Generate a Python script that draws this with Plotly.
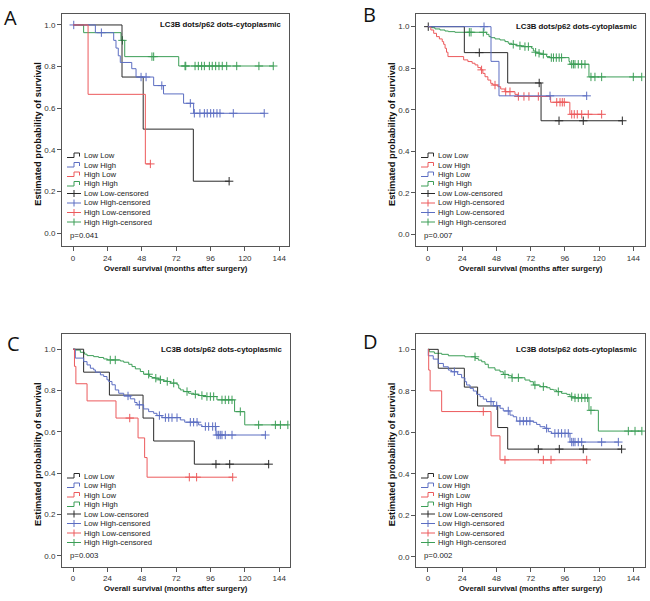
import bisect
import plotly.graph_objects as go

W, H = 650, 601

GROUPS = ["Low Low", "Low High", "High Low", "High High"]
X_TICKS = [0, 24, 48, 72, 96, 120, 144]
Y_TICKS = [0.0, 0.2, 0.4, 0.6, 0.8, 1.0]
PANEL_LABELS = ["A", "B", "C", "D"]
P_VALUES = ["p=0.041", "p=0.007", "p=0.003", "p=0.002"]
PLOT_TITLE = "LC3B dots/p62 dots-cytoplasmic"
X_TITLE = "Overall survival (months after surgery)"
Y_TITLE = "Estimated probability of survival"

# ---------------- Panel A ----------------
A_LL_t = [34.2, 49.0, 84.0]
A_LL_s = [0.75, 0.50, 0.25]
A_LL_c = [109.0]
A_LH_t = [15.6, 28.4, 30.0, 31.6, 33.0, 41.0, 44.0, 56.3, 63.2, 77.2, 84.2]
A_LH_s = [0.963, 0.926, 0.889, 0.852, 0.820, 0.790, 0.750, 0.709, 0.669, 0.624, 0.576]
A_LH_c = [0.5, 19.8, 47.5, 51.0, 62.0, 81.9, 84.7, 88.6, 91.7, 93.7, 96.1, 98.2, 100.5, 102.6, 111.9, 133.5]
A_HL_t = [10.5, 50.5]
A_HL_s = [0.667, 0.333]
A_HL_c = [54.0]
A_HH_t = [7.4, 33.5, 36.1, 73.8]
A_HH_s = [0.963, 0.926, 0.848, 0.803]
A_HH_c = [34.5, 55.1, 56.3, 78.2, 78.7, 85.2, 87.5, 89.8, 91.7, 95.2, 97.2, 99.6, 101.9,
          104.2, 107.3, 114.3, 129.8, 139.8]

# ---------------- Panel B ----------------
B_LL_t = [25.5, 55.9, 79.3]
B_LL_s = [0.875, 0.729, 0.547]
B_LL_c = [0.2, 36.0, 78.0, 91.9, 108.9, 136.3]
B_LH_t = [2.0, 4.0, 6.0, 8.0, 10.0, 11.0, 12.0, 13.0, 14.0, 25.0, 28.0, 31.0, 33.0, 35.0,
          37.0, 38.5, 40.0, 42.0, 44.0, 45.5, 49.0, 51.0, 54.0, 61.0, 63.0, 86.0, 99.5]
B_LH_s = [0.984, 0.968, 0.952, 0.941, 0.928, 0.915, 0.896, 0.877, 0.856, 0.840, 0.832,
          0.824, 0.816, 0.803, 0.792, 0.775, 0.759, 0.743, 0.727, 0.719, 0.711, 0.700,
          0.687, 0.674, 0.664, 0.636, 0.578]
B_LH_c = [37.6, 47.0, 54.5, 57.5, 63.4, 67.3, 70.8, 77.4, 90.3, 92.6, 94.2, 95.6, 100.8,
          102.6, 104.7, 107.8, 112.4, 121.8]
B_HL_t = [44.2, 49.8]
B_HL_s = [0.833, 0.667]
B_HL_c = [39.3, 85.6, 111.3]
B_HH_t = [2.6, 4.9, 8.4, 11.9, 14.3, 18.9, 41.1, 42.8, 44.2, 47.0, 50.5, 54.0, 56.3, 58.7,
          61.0, 62.2, 65.7, 72.7, 73.9, 75.5, 76.9, 79.3, 83.2, 85.6, 98.9, 99.6, 112.9]
B_HH_s = [0.995, 0.989, 0.984, 0.979, 0.976, 0.973, 0.963, 0.952, 0.947, 0.941, 0.936,
          0.928, 0.920, 0.915, 0.912, 0.908, 0.904, 0.896, 0.883, 0.877, 0.872, 0.867,
          0.856, 0.851, 0.832, 0.819, 0.758]
B_HH_c = [29.0, 30.2, 38.8, 59.8, 64.5, 68.0, 70.4, 75.5, 77.9, 80.9, 86.5, 88.0, 90.0,
          92.0, 93.7, 100.8, 102.0, 103.1, 105.4, 107.8, 110.1, 114.3, 117.1, 121.8, 144.0,
          149.9]

# ---------------- Panel C ----------------
C_LL_t = [7.4, 25.4, 48.9, 56.3, 84.7]
C_LL_s = [0.889, 0.778, 0.667, 0.556, 0.444]
C_LL_c = [99.8, 109.4, 136.6]
C_LH_t = [1.6, 7.4, 9.8, 12.1, 14.4, 15.6, 19.1, 21.4, 23.7, 24.9, 27.2, 29.5, 31.9, 35.4,
          40.0, 43.1, 44.7, 49.3, 52.8, 56.3, 58.6, 62.1, 74.9, 78.0, 87.7, 90.0, 99.8]
C_LH_s = [0.957, 0.940, 0.924, 0.908, 0.900, 0.889, 0.876, 0.868, 0.852, 0.844, 0.828,
          0.803, 0.787, 0.774, 0.760, 0.742, 0.731, 0.711, 0.698, 0.690, 0.679, 0.669,
          0.658, 0.647, 0.634, 0.626, 0.585]
C_LH_c = [38.4, 46.3, 60.3, 64.5, 66.8, 69.1, 72.6, 81.9, 84.2, 86.6, 92.4, 94.7, 97.5,
          99.4, 100.5, 101.7, 102.8, 104.0, 106.3, 111.0, 134.3]
C_HL_t = [1.0, 2.0, 9.8, 30.0, 45.4, 50.0, 51.7]
C_HL_s = [0.917, 0.833, 0.750, 0.667, 0.571, 0.476, 0.381]
C_HL_c = [39.6, 81.2, 86.3, 111.5]
C_HH_t = [1.6, 5.1, 8.1, 9.8, 14.4, 17.9, 21.4, 24.0, 33.0, 35.4, 38.9, 41.2, 43.5, 47.0,
          49.3, 53.5, 55.1, 57.5, 59.8, 63.3, 65.6, 68.0, 72.6, 73.8, 74.9, 77.3, 80.7,
          84.2, 87.7, 91.2, 100.5, 112.8, 119.9]
C_HH_s = [0.996, 0.985, 0.976, 0.969, 0.964, 0.960, 0.953, 0.948, 0.943, 0.937, 0.927,
          0.916, 0.905, 0.892, 0.879, 0.868, 0.863, 0.860, 0.852, 0.847, 0.844, 0.836,
          0.828, 0.811, 0.803, 0.795, 0.787, 0.782, 0.776, 0.771, 0.755, 0.698, 0.634]
C_HH_c = [26.0, 29.5, 52.8, 57.8, 61.0, 65.8, 70.3, 79.6, 85.4, 90.0, 93.5, 95.9, 98.2,
          104.0, 106.3, 108.7, 111.0, 116.8, 129.6, 141.3, 144.8, 150.0]

# ---------------- Panel D ----------------
D_LL_t = [7.2, 25.5, 34.8, 48.9, 55.9]
D_LL_s = [0.909, 0.818, 0.727, 0.623, 0.519]
D_LL_c = [77.4, 92.1, 108.9, 135.8]
D_LH_t = [0.2, 3.7, 7.2, 10.8, 14.3, 16.6, 20.8, 23.6, 25.9, 27.1, 29.5, 31.8, 34.1, 36.5,
          38.8, 41.1, 45.8, 50.5, 52.8, 57.5, 59.8, 62.2, 73.9, 76.2, 78.6, 82.1, 84.4,
          86.7, 99.6]
D_LH_s = [0.969, 0.953, 0.932, 0.916, 0.900, 0.892, 0.879, 0.863, 0.844, 0.828, 0.812,
          0.799, 0.783, 0.772, 0.760, 0.748, 0.728, 0.716, 0.703, 0.683, 0.675, 0.654,
          0.648, 0.638, 0.627, 0.619, 0.603, 0.595, 0.553]
D_LH_c = [18.5, 44.2, 48.2, 56.3, 64.5, 66.9, 69.2, 71.5, 83.2, 89.0, 91.4, 93.7, 96.1,
          98.4, 100.8, 101.9, 103.1, 105.4, 107.8, 121.8, 133.5]
D_HL_t = [0.5, 1.5, 9.6, 44.2, 50.5]
D_HL_s = [0.900, 0.800, 0.700, 0.583, 0.467]
D_HL_c = [38.8, 54.0, 80.9, 86.3, 111.3]
D_HH_t = [1.0, 4.5, 9.6, 14.3, 25.9, 33.2, 35.3, 37.7, 40.0, 42.3, 47.0, 50.5, 52.8, 56.3,
          58.7, 68.0, 71.5, 73.9, 78.6, 83.2, 85.6, 87.9, 90.2, 93.7, 97.3, 99.6, 101.0,
          112.9, 119.5]
D_HH_s = [0.988, 0.981, 0.976, 0.969, 0.964, 0.956, 0.948, 0.940, 0.928, 0.911, 0.900,
          0.892, 0.879, 0.873, 0.863, 0.852, 0.844, 0.828, 0.820, 0.815, 0.807, 0.804,
          0.796, 0.788, 0.783, 0.772, 0.766, 0.706, 0.606]
D_HH_c = [33.0, 54.0, 59.0, 63.4, 75.0, 80.9, 91.4, 100.8, 103.1, 105.4, 107.8, 110.1,
          112.0, 114.3, 140.5, 145.2, 150.0]

BLACK = "#2a2a2a"
BLUE = "#5c6ec2"
RED = "#ec5a5c"
GREEN = "#3c9e57"

COLORS_STD = [BLACK, BLUE, RED, GREEN]   # LL, LH, HL, HH
COLORS_B = [BLACK, RED, BLUE, GREEN]

PANEL_CURVES = [
    [(A_LL_t, A_LL_s, A_LL_c), (A_LH_t, A_LH_s, A_LH_c), (A_HL_t, A_HL_s, A_HL_c), (A_HH_t, A_HH_s, A_HH_c)],
    [(B_LL_t, B_LL_s, B_LL_c), (B_LH_t, B_LH_s, B_LH_c), (B_HL_t, B_HL_s, B_HL_c), (B_HH_t, B_HH_s, B_HH_c)],
    [(C_LL_t, C_LL_s, C_LL_c), (C_LH_t, C_LH_s, C_LH_c), (C_HL_t, C_HL_s, C_HL_c), (C_HH_t, C_HH_s, C_HH_c)],
    [(D_LL_t, D_LL_s, D_LL_c), (D_LH_t, D_LH_s, D_LH_c), (D_HL_t, D_HL_s, D_HL_c), (D_HH_t, D_HH_s, D_HH_c)],
]
PANEL_COLORS = [COLORS_STD, COLORS_B, COLORS_STD, COLORS_STD]

# layout (pixel boxes of the plot frames, and axis ranges)
BOXES = [(62, 289, 13.5, 246), (416, 645, 14, 246), (62, 290, 333.5, 566.5), (416, 645, 334, 566.5)]
X_RANGES = [(-7.7, 150.8), (-8.4, 152.2), (-7.7, 151.5), (-8.4, 152.2)]
Y_RANGES = [(-0.061, 1.055), (-0.056, 1.061), (-0.051, 1.076), (-0.047, 1.074)]
LETTER_POS = [(10, 18), (369, 15), (13, 343.5), (370, 341)]

SANS = "Liberation Sans, Arial, sans-serif"


def fx(px):
    return px / W


def fy(py):
    return 1 - py / H


def surv_at(times, surv, t):
    i = bisect.bisect_right(times, t)
    return 1.0 if i == 0 else surv[i - 1]


fig = go.Figure()
shapes = []
annotations = []
DRAW_ORDER = [3, 0, 1, 2]

for p in range(4):
    xa = "x" if p == 0 else f"x{p + 1}"
    ya = "y" if p == 0 else f"y{p + 1}"
    curves = PANEL_CURVES[p]
    cols = PANEL_COLORS[p]
    for g in DRAW_ORDER:
        t, s, c = curves[g]
        end = max(t + c)
        fig.add_trace(go.Scatter(
            x=[0] + list(t) + [end], y=[1.0] + list(s) + [s[-1]],
            mode="lines", line=dict(color=cols[g], width=1, shape="hv"),
            xaxis=xa, yaxis=ya, showlegend=False, hoverinfo="skip"))
        fig.add_trace(go.Scatter(
            x=list(c), y=[surv_at(t, s, v) for v in c], mode="markers",
            marker=dict(symbol="cross-thin", size=6, line=dict(color=cols[g], width=1)),
            xaxis=xa, yaxis=ya, showlegend=False, hoverinfo="skip"))

    x0, x1, y0, y1 = BOXES[p]
    ax_common = dict(showline=True, mirror=True, linecolor="#555", linewidth=1,
                     ticks="outside", ticklen=4, tickwidth=1, tickcolor="#555",
                     showgrid=False, zeroline=False,
                     tickfont=dict(family=SANS, size=8, color="#333"))
    fig.update_layout(**{
        ("xaxis" if p == 0 else f"xaxis{p + 1}"): dict(
            domain=[fx(x0), fx(x1)], anchor=ya, range=list(X_RANGES[p]),
            tickvals=X_TICKS, **ax_common),
        ("yaxis" if p == 0 else f"yaxis{p + 1}"): dict(
            domain=[fy(y1), fy(y0)], anchor=xa, range=list(Y_RANGES[p]),
            tickvals=Y_TICKS, tickformat=".1f", **ax_common),
    })

    # panel letter
    lx, ly = LETTER_POS[p]
    annotations.append(dict(text=PANEL_LABELS[p], x=fx(lx), y=fy(ly), xref="paper", yref="paper",
                            showarrow=False, xanchor="center", yanchor="middle",
                            font=dict(family="Open Sans, Liberation Sans", size=20, color="#111")))
    # inner title
    annotations.append(dict(text="<b>" + PLOT_TITLE + "</b>", x=fx(x1 - 5), y=1.0,
                            xref="paper", yref=ya, showarrow=False, xanchor="right",
                            yanchor="middle", font=dict(family=SANS, size=7.8, color="#111")))
    # axis titles
    annotations.append(dict(text="<b>" + X_TITLE + "</b>", x=fx((x0 + x1) / 2), y=fy(y1 + 22),
                            xref="paper", yref="paper", showarrow=False, xanchor="center",
                            yanchor="middle", font=dict(family=SANS, size=7.8, color="#111")))
    annotations.append(dict(text="<b>" + Y_TITLE + "</b>", x=fx(x0 - 24), y=fy((y0 + y1) / 2 + 4),
                            xref="paper", yref="paper", showarrow=False, xanchor="center",
                            yanchor="middle", textangle=-90,
                            font=dict(family=SANS, size=9.3, color="#111")))
    # legend (manual)
    sx = x0 + 5
    row0 = y1 - 90.5
    labels = GROUPS + [g + "-censored" for g in GROUPS]
    for i, lab in enumerate(labels):
        ry = row0 + 9.5 * i
        col = cols[i % 4]
        if i < 4:
            path = (f"M {fx(sx)},{fy(ry + 2)} L {fx(sx + 7)},{fy(ry + 2)} L {fx(sx + 7)},{fy(ry - 2.5)} "
                    f"L {fx(sx + 12.5)},{fy(ry - 2.5)} L {fx(sx + 12.5)},{fy(ry + 1)}")
            shapes.append(dict(type="path", path=path, xref="paper", yref="paper",
                               line=dict(color=col, width=1)))
        else:
            shapes.append(dict(type="line", x0=fx(sx), x1=fx(sx + 14), y0=fy(ry), y1=fy(ry),
                               xref="paper", yref="paper", line=dict(color=col, width=1)))
            shapes.append(dict(type="line", x0=fx(sx + 7), x1=fx(sx + 7), y0=fy(ry - 3.5),
                               y1=fy(ry + 3.5), xref="paper", yref="paper",
                               line=dict(color=col, width=1)))
        annotations.append(dict(text=lab, x=fx(sx + 15), y=fy(ry), xref="paper", yref="paper",
                                showarrow=False, xanchor="left", yanchor="middle",
                                font=dict(family=SANS, size=7.7, color="#222")))
    annotations.append(dict(text=P_VALUES[p], x=fx(sx + 1), y=fy(y1 - 11), xref="paper",
                            yref="paper", showarrow=False, xanchor="left", yanchor="middle",
                            font=dict(family=SANS, size=7.8, color="#222")))

fig.update_layout(width=W, height=H, margin=dict(l=0, r=0, t=0, b=0),
                  paper_bgcolor="white", plot_bgcolor="white",
                  shapes=shapes, annotations=annotations, showlegend=False)
fig.write_html("out.html", config={"displayModeBar": False},
               post_script="document.body.style.margin='0px';")
